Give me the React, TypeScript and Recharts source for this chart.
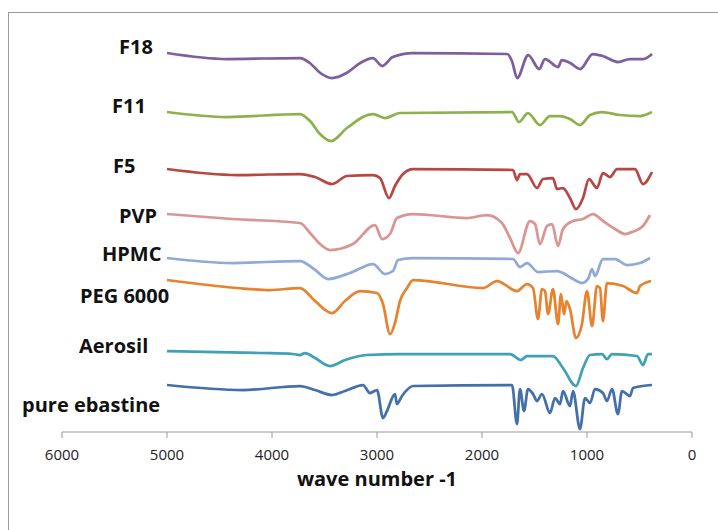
import { LineChart, Line, XAxis, YAxis } from 'recharts'

// wave number (cm-1) and stacked trace height
const pureEbastine: [number, number][] = [
    [5000, 47], [4276, 42], [3733, 46], [3590, 42], [3429, 37], [3305, 41], [3133, 47], [3067, 39],
    [3000, 42], [2943, 14], [2905, 21], [2829, 38], [2810, 28], [2762, 36], [2657, 46], [1714, 47],
    [1667, 8], [1638, 43], [1600, 21], [1562, 43], [1514, 38], [1476, 31], [1429, 38], [1352, 19],
    [1305, 34], [1257, 28], [1229, 41], [1162, 26], [1133, 41], [1067, 3], [1019, 34], [971, 29],
    [924, 43], [848, 39], [810, 31], [762, 43], [705, 18], [667, 41], [590, 36], [562, 44], [381, 47],
]

const aerosil: [number, number][] = [
    [5000, 81], [4114, 79], [3800, 78], [3733, 77], [3686, 79], [3590, 74], [3448, 66], [3305, 72],
    [3095, 77], [2781, 78], [1733, 78], [1629, 72], [1571, 76], [1324, 76], [1229, 64], [1105, 46],
    [1038, 64], [971, 77], [857, 78], [810, 73], [762, 78], [524, 76], [467, 67], [419, 78], [381, 78],
]

const peg6000: [number, number][] = [
    [5000, 152], [4333, 144], [4019, 142], [3733, 144], [3590, 131], [3429, 119], [3305, 131], [3162, 141],
    [3000, 139], [2943, 128], [2876, 98], [2829, 109], [2781, 131], [2714, 144], [2657, 152], [1990, 144],
    [1857, 151], [1667, 141], [1571, 148], [1514, 144], [1467, 113], [1429, 143], [1400, 141], [1371, 118],
    [1324, 143], [1276, 108], [1248, 138], [1219, 118], [1195, 131], [1162, 123], [1105, 94], [1048, 108],
    [1000, 141], [952, 106], [905, 146], [876, 144], [848, 111], [810, 149], [657, 146], [524, 139],
    [495, 146], [390, 151],
]

const hpmc: [number, number][] = [
    [5000, 174], [4381, 169], [3733, 171], [3600, 163], [3467, 153], [3257, 159], [3038, 168], [2924, 158],
    [2848, 161], [2800, 172], [2657, 174], [1705, 173], [1638, 165], [1571, 169], [1467, 160], [1286, 161],
    [1229, 159], [1133, 153], [1048, 149], [990, 153], [952, 163], [924, 156], [848, 173], [733, 173],
    [619, 167], [495, 169], [400, 174],
]

const pvp: [number, number][] = [
    [5000, 218], [4381, 213], [3733, 209], [3638, 199], [3543, 188], [3448, 182], [3229, 188], [3019, 207],
    [2952, 193], [2876, 198], [2810, 214], [2657, 218], [2143, 214], [1952, 217], [1810, 209], [1733, 194],
    [1657, 179], [1543, 211], [1495, 208], [1448, 188], [1381, 206], [1333, 208], [1276, 186], [1229, 203],
    [1133, 211], [1038, 213], [943, 218], [848, 211], [733, 203], [638, 198], [571, 200], [467, 206], [400, 217],
]

const f5: [number, number][] = [
    [5000, 263], [4333, 257], [3733, 258], [3590, 255], [3429, 248], [3286, 256], [3038, 257], [2971, 254],
    [2886, 234], [2829, 246], [2752, 258], [2657, 263], [1705, 262], [1667, 252], [1638, 258], [1571, 258],
    [1476, 244], [1419, 253], [1324, 254], [1286, 243], [1229, 244], [1162, 234], [1105, 223], [1038, 234],
    [981, 253], [905, 244], [848, 259], [781, 255], [714, 263], [543, 263], [467, 248], [381, 260],
]

const f11: [number, number][] = [
    [5000, 320], [4429, 315], [3733, 318], [3638, 311], [3543, 298], [3438, 291], [3286, 304], [3038, 318],
    [2924, 314], [2781, 319], [1714, 320], [1648, 310], [1562, 319], [1448, 307], [1352, 316], [1257, 316],
    [1162, 313], [1067, 307], [971, 317], [857, 320], [686, 317], [495, 316], [381, 320],
]

const f18: [number, number][] = [
    [5000, 379], [4430, 373], [3730, 374], [3640, 369], [3540, 359], [3430, 354], [3290, 359], [3160, 369],
    [3040, 374], [2950, 366], [2850, 375], [2660, 379], [1760, 378], [1715, 371], [1665, 354], [1560, 377],
    [1455, 363], [1400, 373], [1275, 365], [1240, 372], [1160, 369], [1065, 363], [945, 378], [850, 376],
    [705, 370], [590, 373], [465, 373], [380, 378],
]

const seriesNames = ['pure ebastine', 'Aerosil', 'PEG 6000', 'HPMC', 'PVP', 'F5', 'F11', 'F18']
const seriesData = [pureEbastine, aerosil, peg6000, hpmc, pvp, f5, f11, f18]
const xTicks = [0, 1000, 2000, 3000, 4000, 5000, 6000]

const colors = ['#4470AA', '#3EA1B8', '#E5832F', '#8FAAD6', '#D99593', '#B84744', '#8FB14C', '#7D5FA0']
// label start x and baseline y in the overlay
const labelPos = [[22, 412], [79, 353], [80, 303], [102, 261], [119, 223], [113, 173], [112, 113], [119, 54]]

const font = '"Open Sans", sans-serif'

export default function App() {
    return (
        <div style={{ position: 'absolute', left: 0, top: 0, width: 718, height: 530, overflow: 'hidden', background: '#fff' }}>
            <div style={{ position: 'absolute', left: 8, top: 12, width: 800, height: 600, border: '1px solid #9a9a9a' }} />
            <div style={{ position: 'absolute', left: 0, top: 0 }}>
                <LineChart width={718} height={530} margin={{ top: 32, right: 26, left: 62, bottom: 68 }}>
                    <XAxis
                        type="number"
                        dataKey="wn"
                        domain={[0, 6000]}
                        ticks={xTicks}
                        reversed
                        height={30}
                        tickSize={6}
                        tickMargin={11}
                        stroke="#9a9a9a"
                        tick={{ fill: '#222', fontSize: 15, fontFamily: font }}
                        allowDuplicatedCategory={false}
                    />
                    <YAxis type="number" domain={[0, 400]} hide />
                    {seriesData.map((s, i) => (
                        <Line
                            key={seriesNames[i]}
                            data={s.map(([wn, v]) => ({ wn, v }))}
                            dataKey="v"
                            type="monotoneX"
                            stroke={colors[i]}
                            strokeWidth={2.75}
                            dot={false}
                            isAnimationActive={false}
                        />
                    ))}
                </LineChart>
            </div>
            <svg width={718} height={530} style={{ position: 'absolute', left: 0, top: 0, pointerEvents: 'none' }}>
                {seriesNames.map((name, i) => (
                    <text key={name} x={labelPos[i][0]} y={labelPos[i][1]} fontFamily={font} fontWeight={700} fontSize={20} fill="#111">
                        {name}
                    </text>
                ))}
                <text x={377} y={486} textAnchor="middle" fontFamily={font} fontWeight={700} fontSize={20} fill="#111">
                    wave number -1
                </text>
            </svg>
        </div>
    )
}
